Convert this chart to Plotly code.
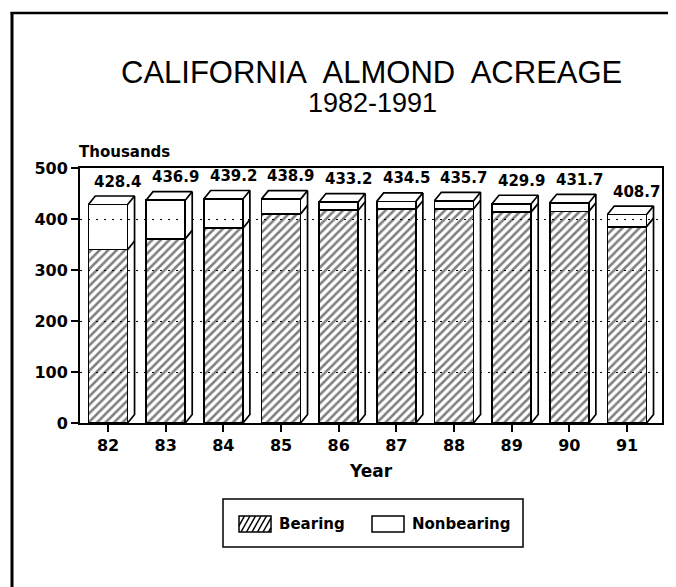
import plotly.graph_objects as go

# ---- data ----
years = ["82", "83", "84", "85", "86", "87", "88", "89", "90", "91"]
bearing = [340.0, 361.0, 382.0, 410.0, 417.0, 419.0, 420.0, 414.0, 415.0, 385.0]
nonbearing = [88.4, 75.9, 57.2, 28.9, 16.2, 15.5, 15.7, 15.9, 16.7, 23.7]
total_labels = ["428.4", "436.9", "439.2", "438.9", "433.2", "434.5", "435.7", "429.9", "431.7", "408.7"]
yticks = [0, 100, 200, 300, 400, 500]

# ---- geometry / style ----
PAGE_OFF = 8                      # default body margin of the html page
W, H = 676 - PAGE_OFF, 587 - PAGE_OFF
PL, PR, PT, PB = 80, 662, 168, 423   # plot area in screen pixels
L, T = PL - PAGE_OFF, PT - PAGE_OFF
R = W - (PR - PAGE_OFF)
B = H - (PB - PAGE_OFF)
PW, PH = PR - PL, PB - PT
BAR_W = 0.68
DX = 0.12      # depth in category units
DY = 16.7      # depth in value units
EDGE = 1.7
BOLD = "DejaVu Sans"


def px(x):
    return (x - PL) / PW


def py(y):
    return (PB - y) / PH


xs = list(range(len(years)))
fig = go.Figure()

fig.add_trace(go.Bar(
    x=xs, y=bearing, width=BAR_W, name="Bearing",
    marker=dict(color="rgba(0,0,0,0)",
                line=dict(color="black", width=EDGE),
                pattern=dict(shape="/", fgcolor="black", bgcolor="rgba(0,0,0,0)",
                             size=6, solidity=0.42)),
    showlegend=False, hoverinfo="skip"))
fig.add_trace(go.Bar(
    x=xs, y=nonbearing, width=BAR_W, name="Nonbearing",
    marker=dict(color="rgba(0,0,0,0)", line=dict(color="black", width=EDGE)),
    showlegend=False, hoverinfo="skip"))

# 3D top and side faces built from the data
ex, ey = [], []
for i, (b, n) in enumerate(zip(bearing, nonbearing)):
    top = b + n
    xl, xr = i - BAR_W / 2, i + BAR_W / 2
    ex += [xl, xl + DX, xr + DX, xr, None]
    ey += [top, top + DY, top + DY, top, None]
    ex += [xr, xr + DX, xr + DX, None]
    ey += [0, DY, top + DY, None]
    ex += [xr, xr + DX, None]
    ey += [b, b + DY, None]
fig.add_trace(go.Scatter(x=ex, y=ey, mode="lines",
                         line=dict(color="black", width=EDGE),
                         showlegend=False, hoverinfo="skip"))

annotations = []
for i, (b, n, lab) in enumerate(zip(bearing, nonbearing, total_labels)):
    annotations.append(dict(x=i + 0.17, y=b + n, xref="x", yref="y", text=lab,
                            showarrow=False, yshift=23, yanchor="middle",
                            font=dict(family=BOLD, size=15, color="black", weight="bold")))

annotations += [
    dict(x=px(371), y=py(72), xref="paper", yref="paper",
         text="CALIFORNIA&nbsp; ALMOND&nbsp; ACREAGE",
         showarrow=False, xanchor="center", yanchor="middle",
         font=dict(family="Liberation Sans", size=31, color="black")),
    dict(x=px(372), y=py(103), xref="paper", yref="paper", text="1982-1991",
         showarrow=False, xanchor="center", yanchor="middle",
         font=dict(family="Liberation Sans", size=27, color="black")),
    dict(x=px(77), y=py(152), xref="paper", yref="paper", text="Thousands",
         showarrow=False, xanchor="left", yanchor="middle",
         font=dict(family=BOLD, size=15, color="black", weight="bold")),
    dict(x=px(371), y=py(471), xref="paper", yref="paper", text="Year",
         showarrow=False, xanchor="center", yanchor="middle",
         font=dict(family=BOLD, size=17, color="black", weight="bold")),
    dict(x=px(277), y=py(524), xref="paper", yref="paper", text="Bearing",
         showarrow=False, xanchor="left", yanchor="middle",
         font=dict(family=BOLD, size=15, color="black", weight="bold")),
    dict(x=px(410), y=py(524), xref="paper", yref="paper", text="Nonbearing",
         showarrow=False, xanchor="left", yanchor="middle",
         font=dict(family=BOLD, size=15, color="black", weight="bold")),
]

shapes = []
# outer frame (left and top edges)
shapes.append(dict(type="line", xref="paper", yref="paper", x0=px(12), y0=py(12), x1=px(12), y1=py(600),
                   line=dict(color="black", width=3)))
shapes.append(dict(type="line", xref="paper", yref="paper", x0=px(10.5), y0=py(13), x1=px(690), y1=py(13),
                   line=dict(color="black", width=2.5)))
# legend box
shapes.append(dict(type="rect", xref="paper", yref="paper", x0=px(223), y0=py(499), x1=px(523), y1=py(547),
                   line=dict(color="black", width=1.5), fillcolor="rgba(0,0,0,0)"))
# legend swatches
sx0, sx1, sy0, sy1 = 239, 271, 516, 532
shapes.append(dict(type="rect", xref="paper", yref="paper", x0=px(sx0), y0=py(sy0), x1=px(sx1), y1=py(sy1),
                   line=dict(color="black", width=1.5), fillcolor="rgba(0,0,0,0)"))
shapes.append(dict(type="rect", xref="paper", yref="paper", x0=px(372), y0=py(sy0), x1=px(404), y1=py(sy1),
                   line=dict(color="black", width=1.5), fillcolor="rgba(0,0,0,0)"))
# hatch lines in the Bearing swatch
k = 9.0 / 16.0
x0 = sx0 - 9
while x0 < sx1:
    ya, yb = sy1, sy0
    xa, xb = x0, x0 + (sy1 - sy0) * k
    if xa < sx0:
        ya = sy1 - (sx0 - x0) / k
        xa = sx0
    if xb > sx1:
        yb = sy1 - (sx1 - x0) / k
        xb = sx1
    if xb > xa:
        shapes.append(dict(type="line", xref="paper", yref="paper",
                           x0=px(xa), y0=py(ya), x1=px(xb), y1=py(yb),
                           line=dict(color="black", width=1.5)))
    x0 += 5.5

fig.update_layout(
    width=W, height=H,
    margin=dict(l=L, r=R, t=T, b=B, pad=0),
    paper_bgcolor="white", plot_bgcolor="white",
    barmode="stack", bargap=0.3,
    showlegend=False,
    annotations=annotations, shapes=shapes,
    xaxis=dict(range=[-0.486, 9.607], tickvals=xs, ticktext=years,
               ticks="outside", ticklen=7, tickwidth=1.5, tickcolor="black",
               showline=True, linecolor="black", linewidth=2, mirror=True,
               showgrid=False, zeroline=False,
               tickfont=dict(family=BOLD, size=16, color="black", weight="bold")),
    yaxis=dict(range=[0, 500], tickvals=yticks,
               ticks="outside", ticklen=7, tickwidth=1.5, tickcolor="black",
               showline=True, linecolor="black", linewidth=2, mirror=True,
               showgrid=True, gridcolor="black", gridwidth=1.3, griddash="2px,6px",
               zeroline=False,
               tickfont=dict(family=BOLD, size=16, color="black", weight="bold")),
)

fig.write_html("out.html")
